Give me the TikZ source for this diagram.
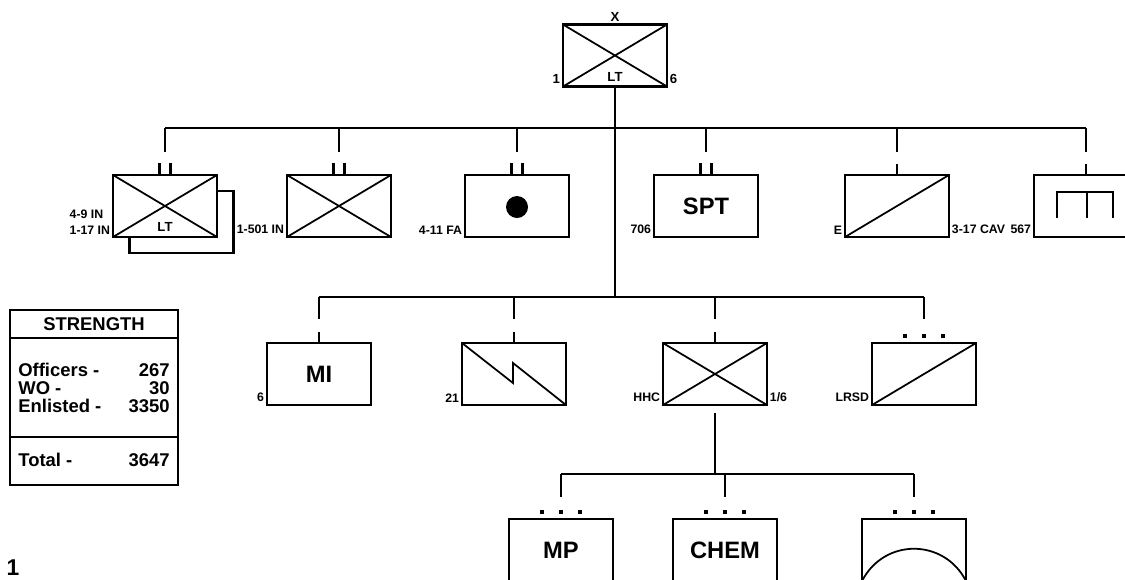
\documentclass[tikz,border=0pt]{standalone}
\usepackage{fontspec}
\setmainfont{Liberation Sans}
\usetikzlibrary{positioning,calc}

\begin{document}
\begin{tikzpicture}[
    x=0.02cm, y=-0.02cm,
    unit/.style={draw, rectangle, line width=1.3pt, minimum width=2.08cm, minimum height=1.24cm, inner sep=0pt, outer sep=0pt, fill=white},
    sym/.style={line width=1pt},
    link/.style={line width=1.5pt},
    echelon/.style={line width=1.2pt},
    lbl/.style={font=\bfseries\fontsize{7}{8.8}\selectfont, inner sep=1.5pt, align=left},
    toplbl/.style={font=\bfseries\fontsize{7.5}{9}\selectfont, inner sep=1.5pt},
    big/.style={font=\bfseries\fontsize{13.5}{15}\selectfont},
    row/.style={font=\bfseries\fontsize{10.5}{12}\selectfont, inner sep=0pt}
]
\useasboundingbox (0,0) rectangle (1125,579);
\clip (0,0) rectangle (1125,579);

% Buses
\coordinate (bus1) at (615,128);
\coordinate (bus2) at (615,297);
\coordinate (bus3) at (715,474);

% Division
\node[unit] (hq) at (615,55.5) {};

% Units under the division
\node[unit] (infb) at (181.5,222) {};
\node[unit] (inf) at (165,206) {};
\node[unit] (abn) at (339,206) {};
\node[unit] (fa) at (517,206) {};
\node[unit, big] (spt) at (706,206) {SPT};
\node[unit] (cav) at (897,206) {};
\node[unit] (eng) at (1086,206) {};

\node[unit, big] (mi) at (319,374) {MI};
\node[unit] (sig) at (514,374) {};
\node[unit] (hhc) at (715,374) {};
\node[unit] (lrsd) at (924,374) {};

% Companies under HHC
\node[unit, big] (mp) at (561,550) {MP};
\node[unit, big] (chem) at (725,550) {CHEM};
\node[unit] (det) at (914,550) {};

% Symbols
\foreach \u in {hq,inf,abn,hhc}
    \draw[sym] (\u.north west) -- (\u.south east) (\u.south west) -- (\u.north east);
\foreach \u in {cav,lrsd}
    \draw[sym] (\u.south west) -- (\u.north east);
\fill ([shift={(0,1)}]fa.center) circle (0.22cm);
\draw[sym] (sig.north west) -- ([shift={(-1,9)}]sig.center) -- ([shift={(-1,-11)}]sig.center) -- (sig.south east);
\draw[sym, line width=1.2pt] ([shift={(-29,12)}]eng.center) -- +(0,-26) -- +(56,-26) -- +(56,0)
    ([shift={(1,-14)}]eng.center) -- +(0,26);
\draw[sym] (det.south west) .. controls +(22,-43) and +(-22,-43) .. (det.south east);

% Echelon marks
\foreach \u in {inf,abn,fa,spt}
    \draw[echelon] ([shift={(-5.5,0)}]\u.north) -- +(0,-12) ([shift={(5.5,0)}]\u.north) -- +(0,-12);
\foreach \u in {cav,eng,mi,sig,hhc}
    \draw[echelon] (\u.north) -- +(0,-11);
\foreach \u in {lrsd,mp,chem,det}
    \foreach \dx in {-19,0,19}
        \fill ([shift={(\dx-2,-9)}]\u.north) rectangle +(4,4);

% Connectors
\draw[link] (hq.south) -- (bus2);
\draw[link] (inf.north |- bus1) -- (eng.north |- bus1);
\foreach \u in {inf,abn,fa,spt,cav,eng}
    \draw[link] (\u.north |- bus1) -- +(0,24);
\draw[link] (mi.north |- bus2) -- (lrsd.north |- bus2);
\foreach \u in {mi,sig,hhc,lrsd}
    \draw[link] (\u.north |- bus2) -- +(0,22);
\draw[link] ([shift={(0,8)}]hhc.south) -- (hhc.south |- bus3);
\draw[link] (mp.north |- bus3) -- (det.north |- bus3);
\foreach \u in {mp,chem,det}
    \draw[link] (\u.north |- bus3) -- +(0,23);

% Labels
\node[toplbl, anchor=south] at (hq.north) {X};
\node[toplbl, anchor=south east] at (hq.south west) {1};
\node[toplbl, anchor=south west] at (hq.south east) {6};
\node[toplbl] at ([shift={(0,-10)}]hq.south) {LT};
\node[toplbl] at ([shift={(0,-10)}]inf.south) {LT};
\node[lbl, anchor=south east] at (inf.south west) {4-9 IN\\1-17 IN};
\node[lbl, anchor=south east] at (abn.south west) {1-501 IN};
\node[lbl, anchor=south east] at (fa.south west) {4-11 FA};
\node[lbl, anchor=south east] at (spt.south west) {706};
\node[lbl, anchor=south east] at (cav.south west) {E};
\node[lbl, anchor=south west] at (cav.south east) {3-17 CAV};
\node[lbl, anchor=south east] at (eng.south west) {567};
\node[lbl, anchor=south east] at (mi.south west) {6};
\node[lbl, anchor=south east] at (sig.south west) {21};
\node[lbl, anchor=south east] at (hhc.south west) {HHC};
\node[lbl, anchor=south west] at (hhc.south east) {1/6};
\node[lbl, anchor=south east] at (lrsd.south west) {LRSD};

% Strength
\node[draw, line width=1pt, minimum width=3.36cm, minimum height=3.5cm, inner sep=0pt] (str) at (94,397.5) {};
\draw[line width=1pt] (str.west |- 0,338) -- (str.east |- 0,338);
\draw[line width=1pt] (str.west |- 0,437) -- (str.east |- 0,437);
\node[row] (strh) at (94,324) {STRENGTH};
\node[row, anchor=west] (off) at (18,370) {Officers -};
\node[row, anchor=east] (offn) at (170,370) {267};
\node[row, anchor=west] (wo) at (18,388) {WO -};
\node[row, anchor=east] (won) at (170,388) {30};
\node[row, anchor=west] (enl) at (18,406) {Enlisted -};
\node[row, anchor=east] (enln) at (170,406) {3350};
\node[row, anchor=west] (tot) at (18,460) {Total -};
\node[row, anchor=east] (totn) at (170,460) {3647};

\node[font=\bfseries\fontsize{13}{15}\selectfont, inner sep=0pt] (pg) at (13,568) {1};

\end{tikzpicture}
\end{document}
